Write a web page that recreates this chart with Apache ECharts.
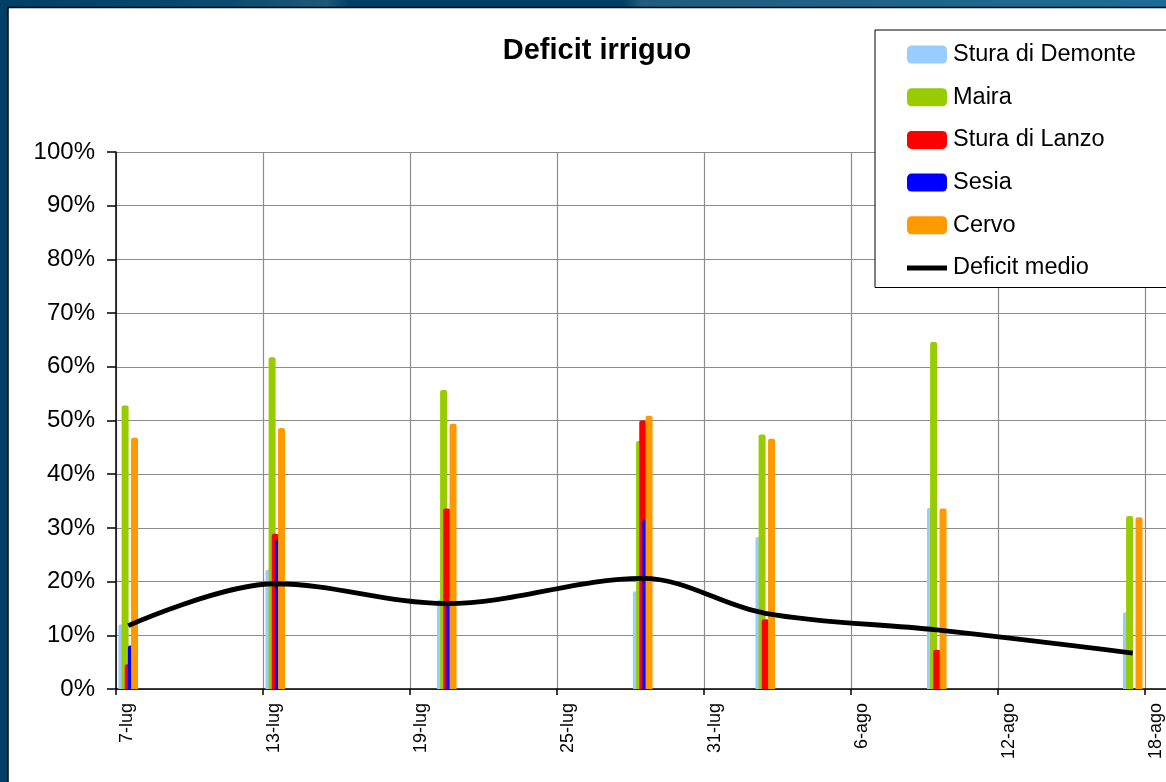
<!DOCTYPE html>
<html>
<head>
<meta charset="utf-8">
<script src="https://cdn.jsdelivr.net/npm/echarts@6/dist/echarts.min.js"></script>
<style>
html,body{margin:0;padding:0;background:#013f66;}
#chart{width:1166px;height:782px;}
</style>
</head>
<body>
<div id="chart"></div>
<script>
// ---- data ----
var dates = ['7-lug', '13-lug', '20-lug', '28-lug', '2-ago', '9-ago', '17-ago'];
var seriesNames = ['Stura di Demonte', 'Maira', 'Stura di Lanzo', 'Sesia', 'Cervo'];
var sturaDemonte = [12, 22.2, 16.6, 18.2, 28.3, 33.7, 14.3];
var maira        = [52.8, 61.8, 55.7, 46.2, 47.4, 64.6, 32.2];
var sturaLanzo   = [4.6, 28.9, 33.6, 50.0, 13.0, 7.3, 0];
var sesia        = [8.1, 27.9, 15.8, 31.5, 0, 0, 0];
var cervo        = [46.8, 48.6, 49.4, 50.9, 46.6, 33.6, 32.0];
var deficitMedio = [11.8, 19.6, 15.9, 20.6, 14.1, 11.0, 6.7];
var tickLabels = ['7-lug', '13-lug', '19-lug', '25-lug', '31-lug', '6-ago', '12-ago', '18-ago'];
var yTicks = [0, 10, 20, 30, 40, 50, 60, 70, 80, 90, 100];

// ---- helpers ----
var monthOffset = { lug: 0, ago: 31 };
function dayIndex(label) {
  var p = label.split('-');
  return parseInt(p[0], 10) + monthOffset[p[1]] - 7 + 0.5; // centred within the day
}
function pairs(vals) {
  return vals.map(function (v, i) { return [dayIndex(dates[i]), v]; });
}

var colors = ['#99ccff', '#99cc00', '#ff0000', '#0000ff', '#ff9900'];
var values = [sturaDemonte, maira, sturaLanzo, sesia, cervo];
var FONT = "'Liberation Sans', Arial, sans-serif";

var series = seriesNames.map(function (name, k) {
  return {
    name: name,
    type: 'bar',
    data: pairs(values[k]),
    barWidth: 7,
    barGap: '-55%',
    itemStyle: { color: colors[k], borderRadius: [2, 2, 0, 0] },
    z: 2
  };
});
series.push({
  name: 'Deficit medio',
  type: 'line',
  data: pairs(deficitMedio),
  smooth: 0.35,
  symbol: 'none',
  showSymbol: false,
  lineStyle: { color: '#000', width: 4.8 },
  itemStyle: { color: '#000' },
  z: 5
});

var chart = echarts.init(document.getElementById('chart'), null, { renderer: 'canvas' });
chart.setOption({
  animation: false,
  backgroundColor: '#013f66',
  graphic: [
    {
      type: 'rect', z: -10, silent: true,
      shape: { x: 0, y: 0, width: 1166, height: 8 },
      style: {
        fill: {
          type: 'linear', x: 0, y: 0, x2: 1, y2: 0,
          colorStops: [
            { offset: 0, color: '#013f66' },
            { offset: 0.2, color: '#0c4b70' },
            { offset: 0.28, color: '#1f5878' },
            { offset: 0.30, color: '#013f66' },
            { offset: 0.535, color: '#013f66' },
            { offset: 0.55, color: '#215c7e' },
            { offset: 1, color: '#1d6c94' }
          ]
        }
      }
    },
    {
      type: 'rect', z: -9, silent: true,
      shape: { x: 8, y: 7.5, width: 1300, height: 900 },
      style: { fill: '#ffffff', stroke: '#000', lineWidth: 1.5 }
    },
    {
      type: 'text', z: 10, x: 597, y: 51,
      style: {
        text: 'Deficit irriguo',
        font: "bold 29px 'Liberation Sans', Arial, sans-serif",
        fill: '#000',
        textAlign: 'center',
        textVerticalAlign: 'middle'
      }
    }
  ],
  grid: { left: 116, top: 152, width: 1102.5, height: 537, containLabel: false, outerBoundsMode: 'none' },
  legend: {
    orient: 'vertical',
    left: 875,
    top: 30,
    padding: [12.5, 60, 7.5, 32],
    itemWidth: 40,
    itemHeight: 18,
    itemGap: 18.7,
    backgroundColor: '#ffffff',
    borderColor: '#000',
    borderWidth: 1,
    z: 20,
    textStyle: { fontFamily: FONT, fontSize: 23.5, color: '#000', padding: [0, 0, 0, 1] },
    data: seriesNames.map(function (n) { return { name: n, icon: 'roundRect' }; })
      .concat([{ name: 'Deficit medio', icon: 'path://M0,0 L36,0 L36,4.4 L0,4.4 Z', itemStyle: { color: '#000' } }])
  },
  xAxis: {
    type: 'value',
    min: 0,
    max: 45,
    interval: 6,
    axisLine: { show: true, onZero: false, lineStyle: { color: '#000', width: 1.5 } },
    axisTick: { show: true, length: 6, lineStyle: { color: '#000', width: 1.5 } },
    splitLine: { show: true, lineStyle: { color: '#8c8c8c', width: 1.2 } },
    axisLabel: {
      rotate: 90,
      margin: 14,
      fontFamily: FONT,
      fontSize: 18,
      lineHeight: 23,
      color: '#000',
      verticalAlign: 'top',
      formatter: function (v) {
        return (v % 6 === 0 && tickLabels[v / 6] !== undefined) ? tickLabels[v / 6] : '';
      }
    }
  },
  yAxis: {
    type: 'value',
    min: 0,
    max: 100,
    interval: 10,
    axisLine: { show: true, lineStyle: { color: '#000', width: 1.5 } },
    axisTick: { show: true, length: 9, lineStyle: { color: '#000', width: 1.5 } },
    splitLine: { show: true, lineStyle: { color: '#8c8c8c', width: 1.2 } },
    axisLabel: {
      margin: 21,
      fontFamily: FONT,
      fontSize: 24,
      color: '#000',
      formatter: function (v) { return yTicks.indexOf(v) >= 0 ? v + '%' : ''; }
    }
  },
  series: series
});
</script>
</body>
</html>
